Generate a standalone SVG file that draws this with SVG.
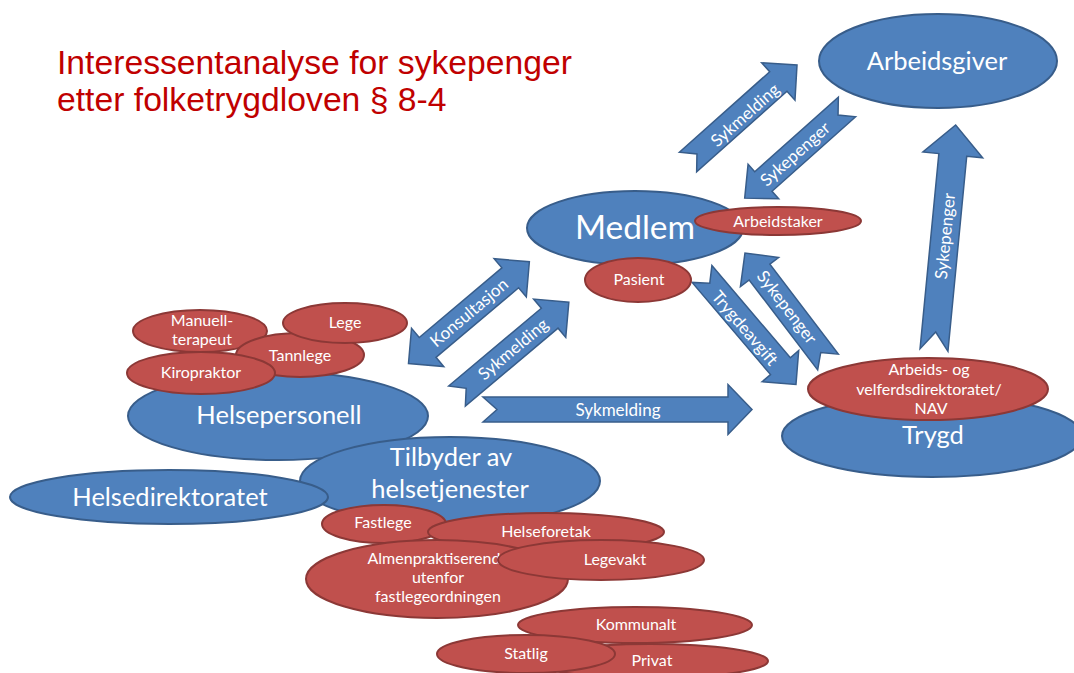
<svg xmlns="http://www.w3.org/2000/svg" width="1074" height="673" viewBox="0 0 1074 673">
<style>
.b{fill:#4F81BD;stroke:#385D8A;stroke-width:2}
.r{fill:#C0504D;stroke:#8C3836;stroke-width:2}
.a{fill:#4F81BD;stroke:#385D8A;stroke-width:1.5}
text{font-family:Lato,"Open Sans","DejaVu Sans",sans-serif;fill:#fff;text-anchor:middle}
.L{font-size:25.5px}
.s{font-size:16px}
.t{font-size:17px}
.title{font-family:"Liberation Sans",Arial,sans-serif;fill:#C00000;font-size:33.7px;text-anchor:start}
</style>
<rect width="1074" height="673" fill="#fff"/>
<g id="title">
<text class="title" x="57" y="74">Interessentanalyse for sykepenger</text>
<text class="title" x="57" y="111">etter folketrygdloven § 8-4</text>
</g>
<g id="connectors">
<g id="arr-sykmelding-arbeidsgiver">
<polygon class="a" transform="translate(688,162) rotate(-41.7)" points="0,-13 121,-13 121,-25 146,0 121,25 121,13 0,13 12,0"/>
<text class="t" transform="translate(745,115) rotate(-41.7)" y="6">Sykmelding</text>
</g>
<g id="arr-sykepenger-medlem-top">
<polygon class="a" transform="translate(847,107) rotate(138.3)" points="0,-13 112,-13 112,-23 137,0 112,23 112,13 0,13 12,0"/>
<text class="t" transform="translate(795,154) rotate(-41.7)" y="6">Sykepenger</text>
</g>
<g id="arr-konsultasjon">
<polygon class="a" transform="translate(408.5,363.5) rotate(-40.1)" points="0,0 25,-25 25,-13 133,-13 133,-25 158,0 133,25 133,13 25,13 25,25"/>
<text class="t" transform="translate(469,312.5) rotate(-40.1)" y="6">Konsultasjon</text>
</g>
<g id="arr-sykmelding-medlem">
<polygon class="a" transform="translate(457,396) rotate(-40)" points="0,-13 121,-13 121,-25 146,0 121,25 121,13 0,13 12,0"/>
<text class="t" transform="translate(513,349) rotate(-40)" y="6">Sykmelding</text>
</g>
<g id="arr-sykmelding-trygd">
<polygon class="a" transform="translate(483,409.5)" points="0,-12.5 245,-12.5 245,-25 269,0 245,25 245,12.5 0,12.5 14,0"/>
<text class="t" x="618" y="415.5">Sykmelding</text>
</g>
<g id="arr-trygdeavgift">
<polygon class="a" transform="translate(702,274) rotate(49.6)" points="0,-13 121,-13 121,-24 145,0 121,24 121,13 0,13 12,0"/>
<text class="t" transform="translate(745,328) rotate(49.6)" y="6">Trygdeavgift</text>
</g>
<g id="arr-sykepenger-medlem">
<polygon class="a" transform="translate(828,362) rotate(-127.3)" points="0,-13 113,-13 113,-24 137,0 113,24 113,13 0,13 12,0"/>
<text class="t" transform="translate(787,307) rotate(52.7)" y="6">Sykepenger</text>
</g>
<g id="arr-sykepenger-arbeidsgiver">
<polygon class="a" transform="translate(934,350) rotate(-84.5)" points="0,-14 196,-14 196,-30 226,0 196,30 196,14 0,14 18,0"/>
<text class="t" transform="translate(945,236) rotate(-84.5)" y="6">Sykepenger</text>
</g>
</g>
<g id="arbeidsgiver">
<ellipse class="b" cx="938" cy="61" rx="119" ry="47"/>
<text class="L" x="937" y="70">Arbeidsgiver</text>
</g>
<g id="medlem">
<ellipse class="b" cx="635" cy="228" rx="108" ry="37"/>
<text x="635" y="239" style="font-size:33.5px">Medlem</text>
</g>
<g id="arbeidstaker">
<ellipse class="r" cx="778" cy="221" rx="83" ry="14"/>
<text class="s" x="778" y="227">Arbeidstaker</text>
</g>
<g id="pasient">
<ellipse class="r" cx="638" cy="280" rx="53" ry="22"/>
<text class="s" x="639" y="285">Pasient</text>
</g>
<g id="helsepersonell">
<ellipse class="b" cx="278" cy="416" rx="150" ry="44"/>
<text class="L" x="279" y="424">Helsepersonell</text>
</g>
<g id="manuellterapeut">
<ellipse class="r" cx="200" cy="331" rx="67" ry="21"/>
<text class="s" x="202" y="326">Manuell-</text>
<text class="s" x="202" y="345">terapeut</text>
</g>
<g id="tannlege">
<ellipse class="r" cx="300" cy="355" rx="64" ry="22"/>
<text class="s" x="300" y="361">Tannlege</text>
</g>
<g id="lege">
<ellipse class="r" cx="345" cy="323" rx="62" ry="20"/>
<text class="s" x="345" y="328">Lege</text>
</g>
<g id="kiropraktor">
<ellipse class="r" cx="201" cy="373" rx="74" ry="21"/>
<text class="s" x="201" y="378">Kiropraktor</text>
</g>
<g id="tilbyder">
<ellipse class="b" cx="450" cy="481" rx="150" ry="44"/>
<text class="L" x="451" y="466">Tilbyder av</text>
<text class="L" x="450" y="498">helsetjenester</text>
</g>
<g id="helsedirektoratet">
<ellipse class="b" cx="169" cy="497" rx="159" ry="27"/>
<text class="L" x="170" y="506">Helsedirektoratet</text>
</g>
<g id="fastlege">
<ellipse class="r" cx="384" cy="524" rx="62" ry="19"/>
<text class="s" x="383" y="528">Fastlege</text>
</g>
<g id="helseforetak">
<ellipse class="r" cx="546" cy="532" rx="118" ry="19"/>
<text class="s" x="546" y="537">Helseforetak</text>
</g>
<g id="almenpraktiserend">
<ellipse class="r" cx="437" cy="579" rx="131" ry="39"/>
<text class="s" x="434" y="564">Almenpraktiserend</text>
<text class="s" x="438" y="583">utenfor</text>
<text class="s" x="438" y="602">fastlegeordningen</text>
</g>
<g id="legevakt">
<ellipse class="r" cx="601" cy="560" rx="103" ry="20"/>
<text class="s" x="615" y="565">Legevakt</text>
</g>
<g id="kommunalt">
<ellipse class="r" cx="635" cy="625" rx="117" ry="18"/>
<text class="s" x="636" y="630">Kommunalt</text>
</g>
<g id="privat">
<ellipse class="r" cx="650" cy="661" rx="118" ry="17"/>
<text class="s" x="652" y="666">Privat</text>
</g>
<g id="statlig">
<ellipse class="r" cx="526" cy="654" rx="89" ry="19"/>
<text class="s" x="526" y="659">Statlig</text>
</g>
<g id="trygd">
<ellipse class="b" cx="932" cy="436" rx="150" ry="41"/>
<text class="L" x="933" y="444">Trygd</text>
</g>
<g id="nav">
<ellipse class="r" cx="928" cy="389" rx="120" ry="31"/>
<text class="s" x="929" y="375">Arbeids- og</text>
<text class="s" x="929" y="395">velferdsdirektoratet/</text>
<text class="s" x="931" y="414">NAV</text>
</g>
</svg>
